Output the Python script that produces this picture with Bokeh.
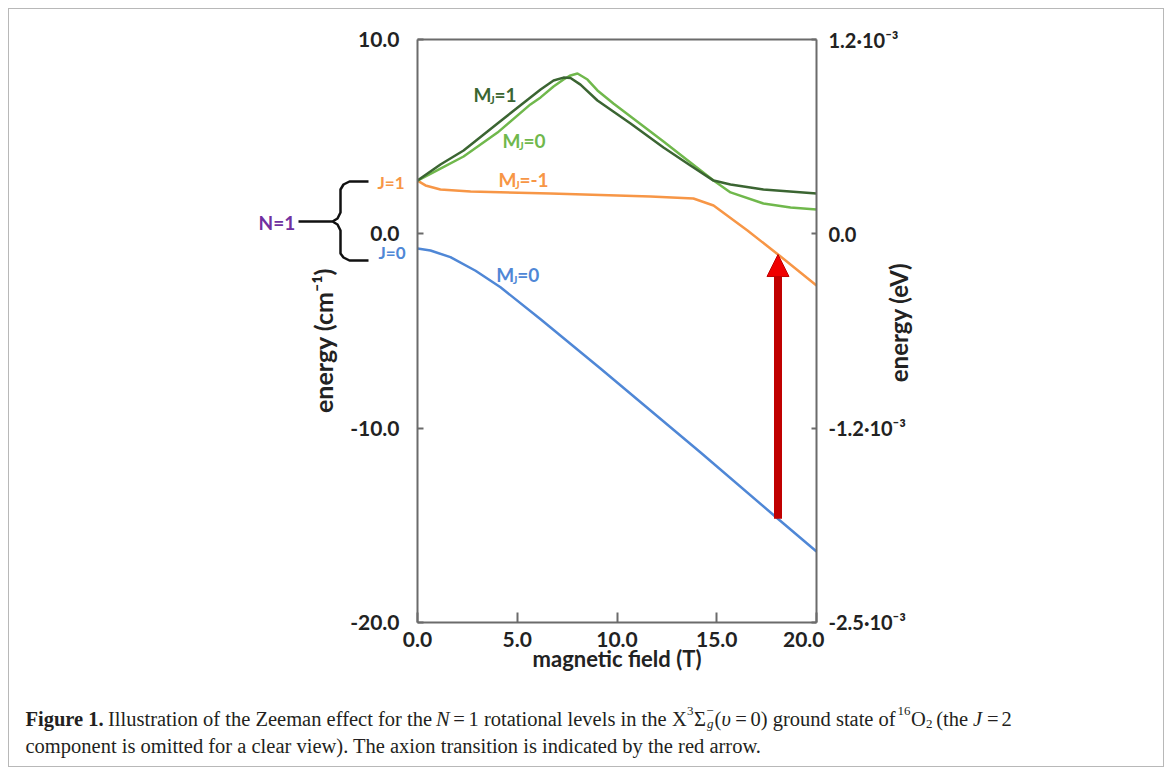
import math
import numpy as np
from bokeh.plotting import figure
from bokeh.layouts import column
from bokeh.models import (Range1d, LinearAxis, FixedTicker, Label, Arrow,
                          NormalHead, PolyAnnotation)
from bokeh.embed import file_html
from bokeh.resources import INLINE

# ---------------- data ----------------
field_mj1 = [0, 1.15, 2.31, 4.01, 5.66, 6.17, 6.82, 7.32, 7.67, 8.17, 9.02,
             10.68, 12.33, 13.68, 14.84, 15.69, 17.34, 20.0]
energy_mj1 = [2.74, 3.57, 4.29, 5.68, 7.02, 7.43, 7.89, 8.04, 8.02, 7.68, 6.86,
              5.68, 4.44, 3.52, 2.74, 2.54, 2.28, 2.08]

field_mj0_j1 = [0, 1.15, 2.31, 4.01, 5.66, 6.17, 6.82, 7.32, 7.67, 8.02, 8.52,
                9.02, 9.82, 10.68, 12.33, 13.68, 14.84, 15.69, 17.34, 18.70, 20.0]
energy_mj0_j1 = [2.74, 3.36, 3.98, 5.21, 6.66, 7.02, 7.58, 7.94, 8.15, 8.25, 7.94,
                 7.38, 6.71, 6.04, 4.75, 3.67, 2.74, 2.13, 1.56, 1.36, 1.25]

field_mjm1 = [0, 0.40, 1.15, 2.66, 6.67, 11.68, 13.83, 14.84, 16.54, 18.20, 20.0]
energy_mjm1 = [2.74, 2.49, 2.28, 2.18, 2.08, 1.92, 1.82, 1.46, 0.17, -1.17, -2.66]

field_j0 = [0, 0.65, 1.65, 2.91, 4.16, 6.17, 9.17, 14.19, 18.05, 20.0]
energy_j0 = [-0.76, -0.86, -1.20, -1.90, -2.75, -4.40, -6.93, -11.25, -14.65, -16.35]

arrow_field = 18.07          # axion transition (T)

x_ticks = [0, 5, 10, 15, 20]
x_labels = ["0.0", "5.0", "10.0", "15.0", "20.0\u00a0\u00a0\u00a0\u00a0\u00a0"]
y_ticks = [-20, -10, 0, 10]
y_labels = ["-20.0", "-10.0", "0.0", "10.0"]
CM1_TO_EV = 1.23984e-4
ev_ticks = [t * CM1_TO_EV for t in y_ticks]
ev_labels = ["-2.5·10⁻³", "-1.2·10⁻³", "0.0", "1.2·10⁻³"]

# colours
C_DARK = "#3b6532"
C_LIGHT = "#70b84c"
C_ORANGE = "#f79646"
C_BLUE = "#4f87d6"
C_PURPLE = "#7030a0"
C_AXIS = "#6b6b6b"
C_TEXT = "#222222"
C_BORDER = "#b8b8b8"

FONT = "Lato"

# ---------------- page geometry (pixels) ----------------
W = 1170
F_L, F_R, F_T, F_B = 240, 930, 20, 671   # widened frame (holds the side texts)
BOTTOM_BORDER = 31
H_MAIN = F_B + BOTTOM_BORDER
H_CAP = 773 - H_MAIN
PX_PER_T = 19.95            # horizontal scale
PX_PER_CM = 19.433          # vertical scale
AXIS_X0 = 417               # page x of B = 0
AXIS_Y10 = 39               # page y of E = 10

def bx(px):
    return (px - AXIS_X0) / PX_PER_T

def by(py):
    return 10 - (py - AXIS_Y10) / PX_PER_CM

def border_css(height, top, bottom):
    imgs, sizes, poss = [], [], []
    L, R = 8, 1163
    y0 = top if top is not None else 0
    y1 = bottom if bottom is not None else height
    for xx in (L, R):
        imgs.append(f"linear-gradient({C_BORDER},{C_BORDER})")
        sizes.append(f"1px {y1 - y0 + 1}px")
        poss.append(f"{xx}px {y0}px")
    for yy in (top, bottom):
        if yy is not None:
            imgs.append(f"linear-gradient({C_BORDER},{C_BORDER})")
            sizes.append(f"{R - L + 1}px 1px")
            poss.append(f"{L}px {yy}px")
    return {"background-color": "white", "background-image": ", ".join(imgs),
            "background-size": ", ".join(sizes),
            "background-position": ", ".join(poss),
            "background-repeat": "no-repeat"}

# ---------------- main figure ----------------
p = figure(frame_width=F_R - F_L, frame_height=F_B - F_T,
           min_border_left=F_L, min_border_right=W - F_R,
           min_border_top=F_T, min_border_bottom=BOTTOM_BORDER,
           x_range=Range1d(bx(F_L), bx(F_R)),
           y_range=Range1d(by(F_B), by(F_T)),
           output_backend="svg", toolbar_location=None, title=None)
p.styles = border_css(H_MAIN, 8, None)
p.xgrid.visible = False
p.ygrid.visible = False
p.outline_line_color = None
p.background_fill_color = None
p.border_fill_color = None

xa = p.xaxis[0]
xa.ticker = FixedTicker(ticks=x_ticks)
xa.fixed_location = -20
xa.bounds = (0, 20)
xa.major_label_overrides = dict(zip(x_ticks, x_labels))
xa.major_tick_in = 10
xa.major_tick_out = 0
xa.major_label_standoff = 4

ya = p.yaxis[0]
ya.ticker = FixedTicker(ticks=y_ticks)
ya.fixed_location = 0
ya.bounds = (-20, 10)
ya.major_label_overrides = dict(zip(y_ticks, y_labels))
ya.major_tick_in = 6
ya.major_tick_out = 0
ya.major_label_standoff = 18

p.extra_y_ranges = {"ev": Range1d(by(F_B) * CM1_TO_EV, by(F_T) * CM1_TO_EV)}
ra = LinearAxis(y_range_name="ev", ticker=FixedTicker(ticks=ev_ticks),
                major_label_overrides=dict(zip(ev_ticks, ev_labels)),
                fixed_location=20, bounds=(-20 * CM1_TO_EV, 10 * CM1_TO_EV))
ra.major_tick_in = 5
ra.major_tick_out = 0
ra.major_label_standoff = 12
p.add_layout(ra, "right")

ta = LinearAxis(ticker=FixedTicker(ticks=[]), fixed_location=10, bounds=(0, 20))
ta.major_tick_out = 0
ta.major_tick_in = 0
p.add_layout(ta, "above")

for ax in (xa, ya, ra, ta):
    ax.axis_line_color = C_AXIS
    ax.axis_line_width = 2
    ax.major_tick_line_color = C_AXIS
    ax.major_tick_line_width = 2
    ax.minor_tick_line_color = None
    ax.major_label_text_font = FONT
    ax.major_label_text_font_style = "bold"
    ax.major_label_text_font_size = "21px"
    ax.major_label_text_color = C_TEXT
ra.major_label_text_font_size = "20px"

title_kw = dict(text_align="center", text_baseline="middle", text_font=FONT,
                text_font_style="bold", text_color=C_TEXT)
p.add_layout(Label(x=bx(322), y=by(340), text="energy (cm⁻¹)", angle=math.pi / 2,
                   text_font_size="25px", **title_kw))
p.add_layout(Label(x=bx(898), y=by(322), text="energy (eV)", angle=math.pi / 2,
                   text_font_size="24px", **title_kw))
p.add_layout(Label(x=10, y=by(658), text="magnetic field (T)",
                   text_font_size="22px", **title_kw))

# ---------------- curves ----------------
p.line(field_mjm1, energy_mjm1, line_color=C_ORANGE, line_width=2.5)
p.line(field_mj0_j1, energy_mj0_j1, line_color=C_LIGHT, line_width=2.5)
p.line(field_mj1, energy_mj1, line_color=C_DARK, line_width=2.5)
p.line(field_j0, energy_j0, line_color=C_BLUE, line_width=2.5)

# ---------------- arrow (axion transition) ----------------
y_lo = float(np.interp(arrow_field, field_j0, energy_j0))
y_hi = float(np.interp(arrow_field, field_mjm1, energy_mjm1))
p.add_layout(Arrow(x_start=arrow_field, y_start=y_lo, x_end=arrow_field, y_end=y_hi,
                   line_color="#c00000", line_width=8,
                   end=NormalHead(size=22, fill_color="#f00000",
                                  line_color="#c00000", line_width=1)))

# ---------------- curve labels ----------------
def mj_label(x, y, rest, color):
    kw = dict(text_font=FONT, text_font_style="bold", text_color=color,
              text_baseline="middle", text_align="left")
    p.add_layout(Label(x=x, y=y, text="M", text_font_size="19px", **kw))
    p.add_layout(Label(x=x, y=y, x_offset=16.5, y_offset=-5, text="J",
                       text_font_size="11px", **kw))
    p.add_layout(Label(x=x, y=y, x_offset=21, text=rest,
                       text_font_size="19px", **kw))

mj_label(2.81, 7.17, "=1", C_DARK)
mj_label(4.26, 4.80, "=0", C_LIGHT)
mj_label(4.06, 2.80, "=-1", C_ORANGE)
mj_label(3.95, -2.10, "=0", C_BLUE)

side = dict(text_font=FONT, text_baseline="middle", text_align="left",
            text_font_style="bold")
p.add_layout(Label(x=bx(377), y=by(182), text="J=1", text_color=C_ORANGE,
                   text_font_size="17px", **side))
p.add_layout(Label(x=bx(378), y=by(252), text="J=0", text_color=C_BLUE,
                   text_font_size="17px", **side))
p.add_layout(Label(x=bx(258), y=by(222), text="N=1", text_color=C_PURPLE,
                   text_font_size="19px", **side))

# brace grouping the J=1 / J=0 levels of N=1
brace_px = [298, 332, 337, 340, 340, 343, 349, 368,
            349, 343, 340, 340, 337, 332,
            337, 340, 340, 343, 349, 368,
            349, 343, 340, 340, 337, 332]
brace_py = [221, 221, 218, 212, 189, 184, 181, 181,
            181, 184, 189, 212, 218, 221,
            224, 230, 253, 257, 260, 260,
            260, 257, 253, 230, 224, 221]
p.add_layout(PolyAnnotation(xs=[bx(v) for v in brace_px],
                            ys=[by(v) for v in brace_py],
                            fill_alpha=0, line_alpha=1,
                            line_color="#111111", line_width=2.5))

# ---------------- caption strip (page pixel coordinates) ----------------
TOP2, BOT2 = H_MAIN, H_MAIN + H_CAP
c = figure(width=W, height=H_CAP, x_range=Range1d(0, W),
           y_range=Range1d(BOT2, TOP2), min_border=0,
           x_axis_location=None, y_axis_location=None,
           output_backend="svg", toolbar_location=None, title=None)
if "frame_align" in c.properties():
    c.frame_align = False
    p.frame_align = False
c.styles = border_css(H_CAP, None, 766 - TOP2)
c.xgrid.visible = False
c.ygrid.visible = False
c.outline_line_color = None
c.background_fill_color = None
c.border_fill_color = None

CAP_SIZE = "20.5px"
SMALL = "13px"

def cap(X, Y, text, style="normal", size=CAP_SIZE):
    c.add_layout(Label(x=X, y=Y, text=text, text_font="Liberation Serif",
                       text_font_size=size, text_font_style=style,
                       text_color="#231f20", text_baseline="alphabetic",
                       text_align="left"))

B1, B2 = 718, 745
SUP, SUB = 8, 5
cap(25, B1, "Figure 1.", "bold")
cap(107.5, B1, "Illustration of the Zeeman effect for the")
cap(435.6, B1, "N", "italic")
cap(452.8, B1, "=")
cap(468, B1, "1 rotational levels in the")
cap(671.5, B1, "X")
cap(686.5, B1 - SUP, "3", size=SMALL)
cap(693.5, B1, "Σ")
cap(705.8, B1 - SUP, "−", size=SMALL)
cap(706.5, B1 + SUB, "g", "italic", size=SMALL)
cap(714, B1, "(")
cap(721, B1, "υ", "italic")
cap(734.8, B1, "=")
cap(750, B1, "0) ground state of")
cap(897, B1 - SUP, "16", size=SMALL)
cap(910.5, B1, "O")
cap(925.5, B1 + SUB, "2", size=SMALL)
cap(935.7, B1, "(the")
cap(972.5, B1, "J", "italic")
cap(986.5, B1, "=")
cap(1001, B1, "2")
cap(25, B2, "component is omitted for a clear view). The axion transition is "
            "indicated by the red arrow.")

layout = column(p, c, spacing=0)

open("out.html", "w").write(file_html(layout, INLINE))
